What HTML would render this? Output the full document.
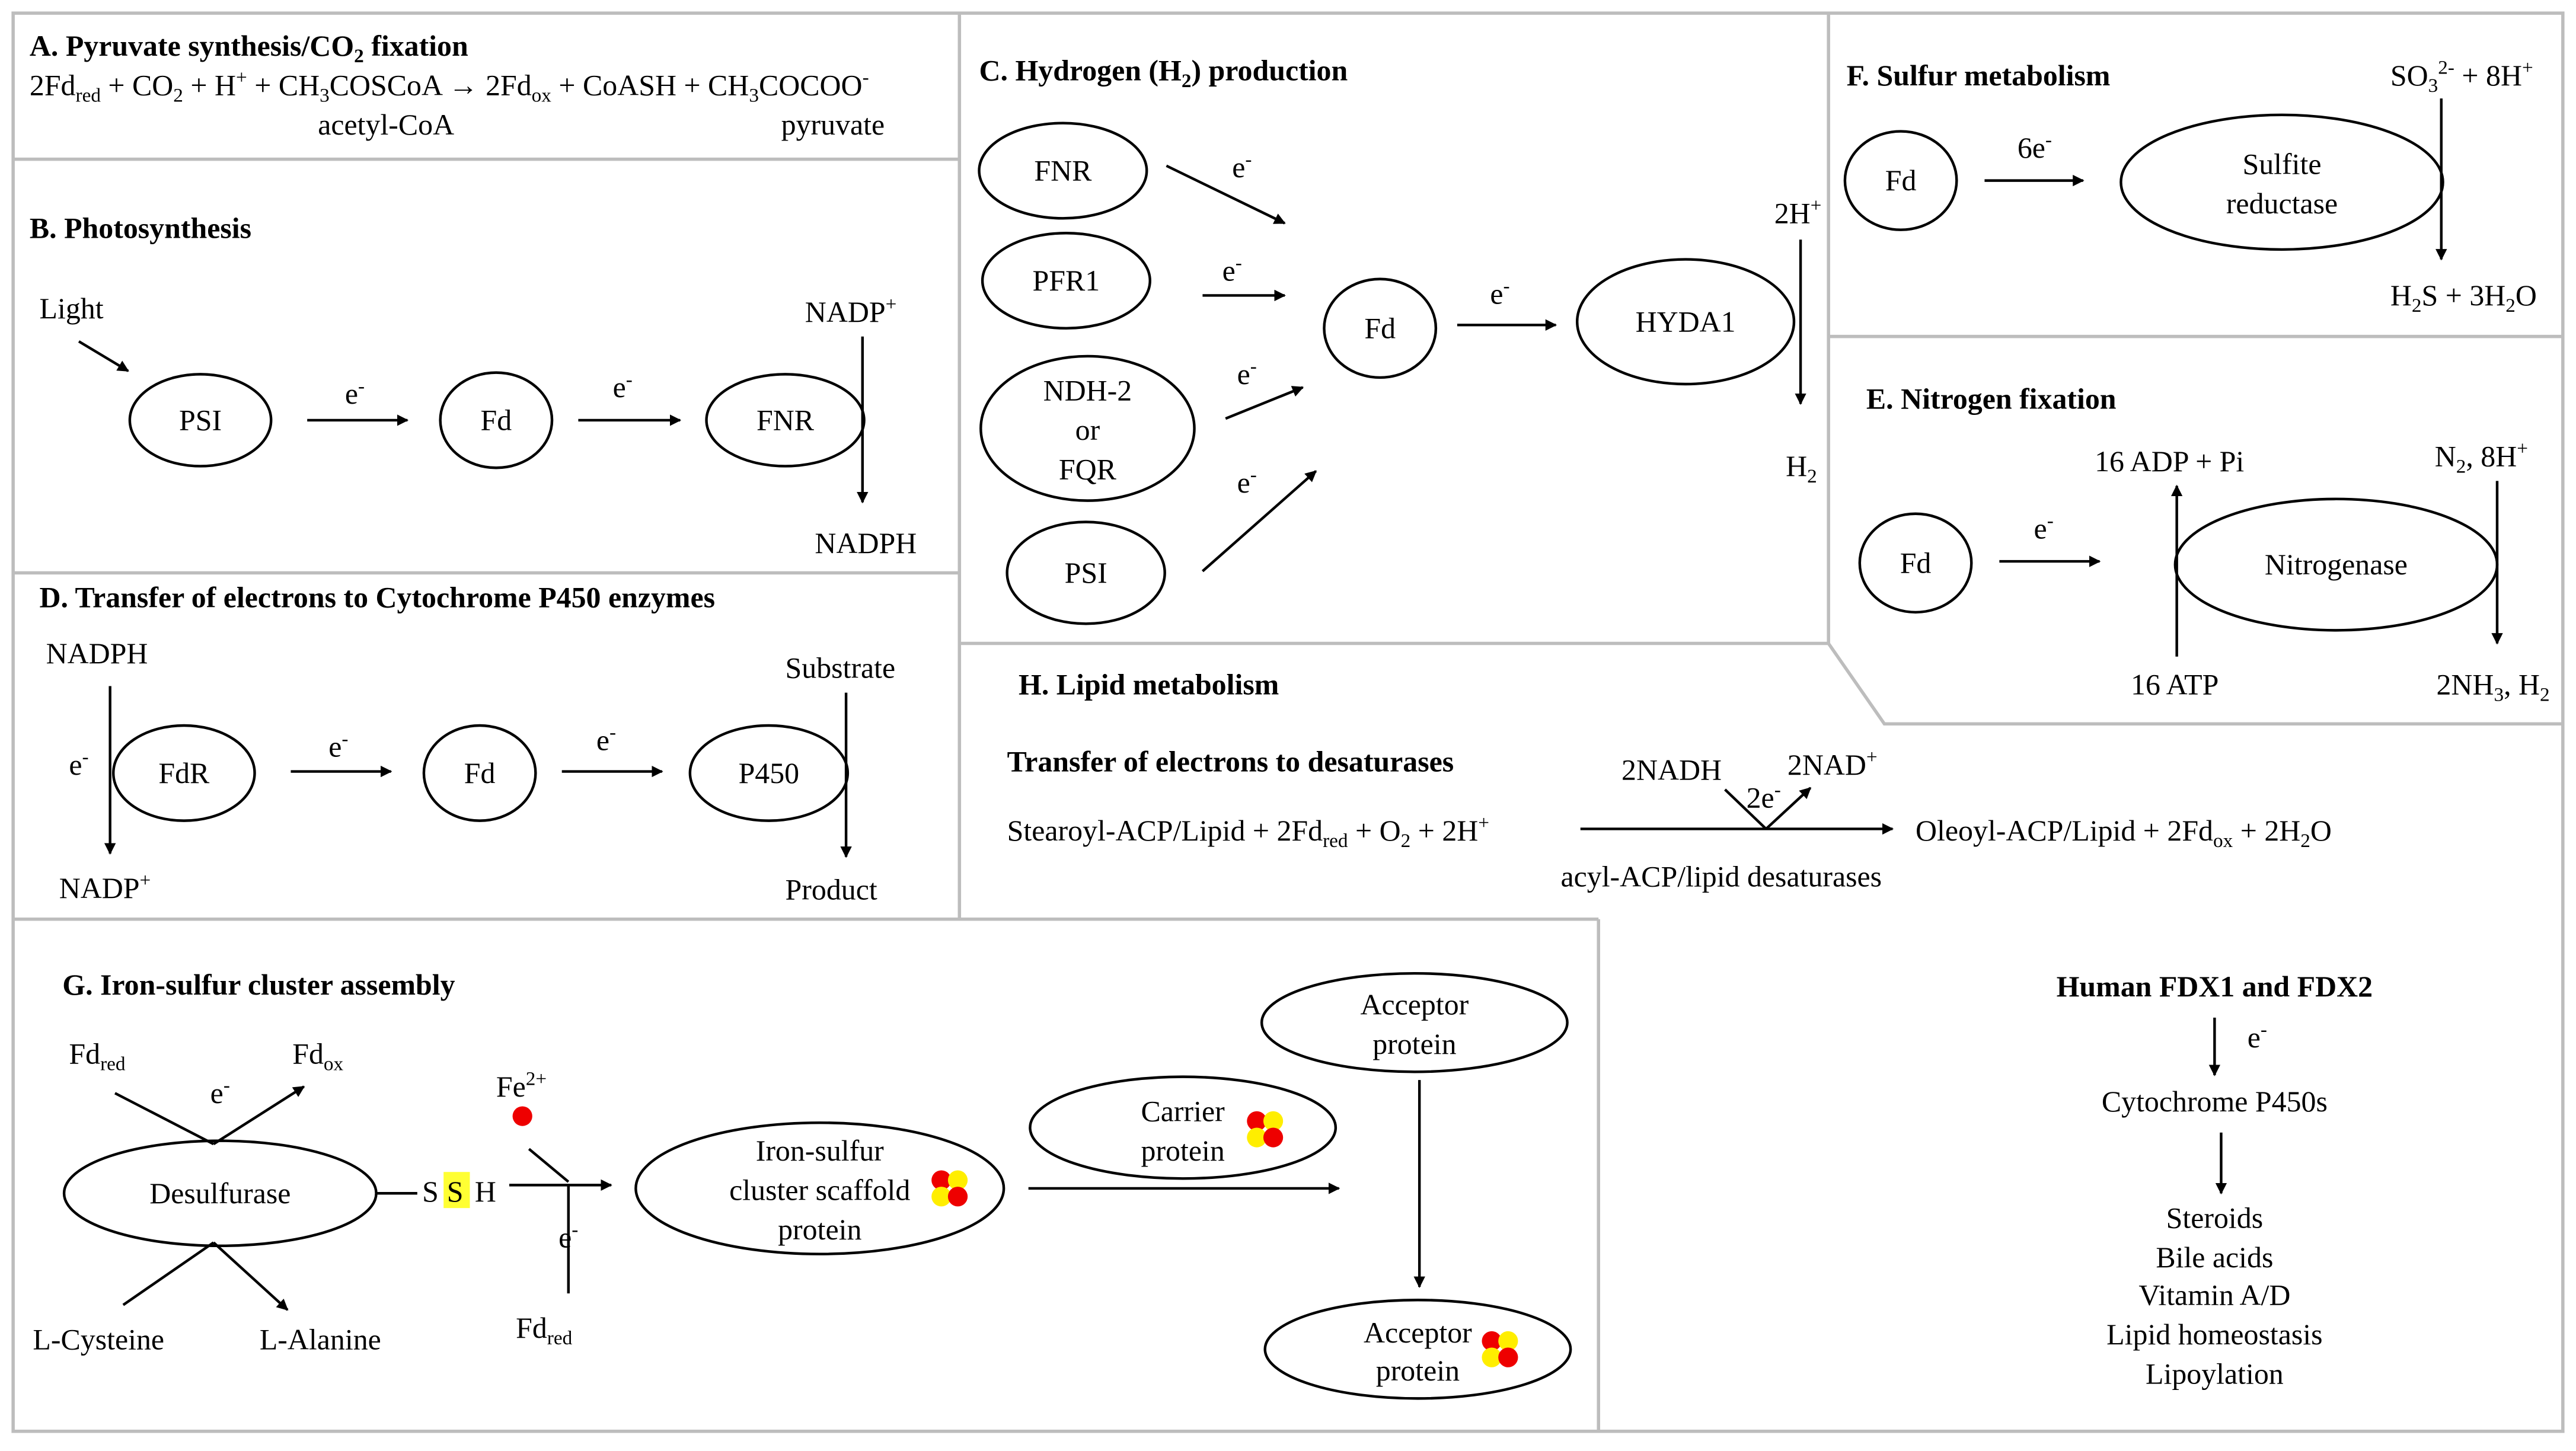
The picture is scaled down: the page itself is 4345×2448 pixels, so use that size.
<!DOCTYPE html>
<html><head><meta charset="utf-8"><style>
html,body{margin:0;padding:0;background:#fff;}
svg{display:block;}
text{font-family:"Liberation Serif","Times New Roman",serif;font-size:18px;fill:#000;}
.b{font-weight:bold;}
.s{font-size:12px;}
.m{text-anchor:middle;}
</style></head><body>
<svg width="4345" height="2448" viewBox="0 0 1568 884" preserveAspectRatio="none" xmlns="http://www.w3.org/2000/svg">
<defs><marker id="a" viewBox="0 0 10 10" refX="9" refY="5" markerWidth="7" markerHeight="7" orient="auto-start-reverse" markerUnits="userSpaceOnUse"><path d="M0,0L10,5L0,10z" fill="#000"/></marker>
<g id="cl">
<circle cx="-5" cy="-5" r="6" fill="#ee0000"/><circle cx="5" cy="-5" r="6" fill="#ffee00"/>
<circle cx="-5" cy="5" r="6" fill="#ffee00"/><circle cx="5" cy="5" r="6" fill="#ee0000"/>
</g></defs>
<g stroke="#bdbdbd" stroke-width="2" fill="none">
<rect x="8" y="8" width="1552" height="864"/>
<line x1="8" y1="97" x2="584" y2="97"/>
<line x1="8" y1="349" x2="584" y2="349"/>
<line x1="8" y1="560" x2="973" y2="560"/>
<line x1="584" y1="8" x2="584" y2="560"/>
<line x1="973" y1="560" x2="973" y2="872"/>
<line x1="584" y1="392" x2="1113" y2="392"/>
<line x1="1113" y1="8" x2="1113" y2="392"/>
<line x1="1113" y1="205" x2="1560" y2="205"/>
<polyline points="1113,392 1147,441 1560,441"/>
</g>
<g stroke="#000" stroke-width="1.6" fill="none">
<ellipse cx="122" cy="256" rx="43" ry="28"/>
<ellipse cx="302" cy="256" rx="34" ry="29"/>
<ellipse cx="478" cy="256" rx="48" ry="28"/>
<line x1="48" y1="208" x2="78" y2="226" marker-end="url(#a)"/>
<line x1="187" y1="256" x2="248" y2="256" marker-end="url(#a)"/>
<line x1="352" y1="256" x2="414" y2="256" marker-end="url(#a)"/>
<line x1="525" y1="205" x2="525" y2="306" marker-end="url(#a)"/>
<ellipse cx="112" cy="471" rx="43" ry="29"/>
<ellipse cx="292" cy="471" rx="34" ry="29"/>
<ellipse cx="468" cy="471" rx="48" ry="29"/>
<line x1="67" y1="418" x2="67" y2="520" marker-end="url(#a)"/>
<line x1="177" y1="470" x2="238" y2="470" marker-end="url(#a)"/>
<line x1="342" y1="470" x2="403" y2="470" marker-end="url(#a)"/>
<line x1="515" y1="422" x2="515" y2="522" marker-end="url(#a)"/>
<ellipse cx="647" cy="104" rx="51" ry="29"/>
<ellipse cx="649" cy="171" rx="51" ry="29"/>
<ellipse cx="662" cy="261" rx="65" ry="44"/>
<ellipse cx="661" cy="349" rx="48" ry="31"/>
<ellipse cx="840" cy="200" rx="34" ry="30"/>
<ellipse cx="1026" cy="196" rx="66" ry="38"/>
<line x1="710" y1="101" x2="782" y2="136" marker-end="url(#a)"/>
<line x1="732" y1="180" x2="782" y2="180" marker-end="url(#a)"/>
<line x1="746" y1="255" x2="793" y2="236" marker-end="url(#a)"/>
<line x1="732" y1="348" x2="801" y2="287" marker-end="url(#a)"/>
<line x1="887" y1="198" x2="947" y2="198" marker-end="url(#a)"/>
<line x1="1096" y1="146" x2="1096" y2="246" marker-end="url(#a)"/>
<ellipse cx="1157" cy="110" rx="34" ry="30"/>
<ellipse cx="1389" cy="111" rx="98" ry="41"/>
<line x1="1208" y1="110" x2="1268" y2="110" marker-end="url(#a)"/>
<line x1="1486" y1="60" x2="1486" y2="158" marker-end="url(#a)"/>
<ellipse cx="1166" cy="343" rx="34" ry="30"/>
<ellipse cx="1422" cy="344" rx="98" ry="40"/>
<line x1="1217" y1="342" x2="1278" y2="342" marker-end="url(#a)"/>
<line x1="1325" y1="400" x2="1325" y2="296" marker-end="url(#a)"/>
<line x1="1520" y1="293" x2="1520" y2="392" marker-end="url(#a)"/>
<line x1="962" y1="505" x2="1152" y2="505" marker-end="url(#a)"/>
<polyline points="1050,481 1075,505"/>
<line x1="1075" y1="505" x2="1102" y2="480" marker-end="url(#a)"/>
<line x1="1348" y1="620" x2="1348" y2="655" marker-end="url(#a)"/>
<line x1="1352" y1="690" x2="1352" y2="727" marker-end="url(#a)"/>
<ellipse cx="134" cy="727" rx="95" ry="32"/>
<line x1="70" y1="666" x2="130" y2="697"/>
<line x1="130" y1="697" x2="185" y2="662" marker-end="url(#a)"/>
<line x1="75" y1="795" x2="130" y2="757"/>
<line x1="130" y1="757" x2="175" y2="798" marker-end="url(#a)"/>
<line x1="229" y1="727" x2="254" y2="727"/>
<line x1="322" y1="700" x2="346" y2="720"/>
<line x1="310" y1="722" x2="372" y2="722" marker-end="url(#a)"/>
<line x1="346" y1="722" x2="346" y2="788"/>
<ellipse cx="499" cy="724" rx="112" ry="40"/>
<line x1="626" y1="724" x2="815" y2="724" marker-end="url(#a)"/>
<ellipse cx="720" cy="687" rx="93" ry="31"/>
<ellipse cx="861" cy="623" rx="93" ry="30"/>
<line x1="864" y1="658" x2="864" y2="784" marker-end="url(#a)"/>
<ellipse cx="863" cy="822" rx="93" ry="30"/>
</g>
<rect x="270" y="714" width="16" height="22" fill="#ffff33"/>
<circle cx="318" cy="680" r="6" fill="#ee0000"/>
<use href="#cl" x="578" y="724"/>
<use href="#cl" x="770" y="688"/>
<use href="#cl" x="913" y="822"/>
<text x="18" y="34" class="b">A. Pyruvate synthesis/CO<tspan class="s" dy="4">2</tspan><tspan dy="-4"> fixation</tspan></text>
<text x="18" y="58">2Fd<tspan class="s" dy="4">red</tspan><tspan dy="-4"> + CO</tspan><tspan class="s" dy="4">2</tspan><tspan dy="-4"> + H</tspan><tspan class="s" dy="-7">+</tspan><tspan dy="7"> + CH</tspan><tspan class="s" dy="4">3</tspan><tspan dy="-4">COSCoA → 2Fd</tspan><tspan class="s" dy="4">ox</tspan><tspan dy="-4"> + CoASH + CH</tspan><tspan class="s" dy="4">3</tspan><tspan dy="-4">COCOO</tspan><tspan class="s" dy="-7">-</tspan></text>
<text x="235" y="82" class="m">acetyl-CoA</text>
<text x="507" y="82" class="m">pyruvate</text>
<text x="18" y="145" class="b">B. Photosynthesis</text>
<text x="24" y="194">Light</text>
<text x="122" y="262" class="m">PSI</text>
<text x="302" y="262" class="m">Fd</text>
<text x="478" y="262" class="m">FNR</text>
<text x="210" y="246">e<tspan class="s" dy="-7">-</tspan></text>
<text x="373" y="242">e<tspan class="s" dy="-7">-</tspan></text>
<text x="490" y="196">NADP<tspan class="s" dy="-7">+</tspan></text>
<text x="496" y="337">NADPH</text>
<text x="24" y="370" class="b">D. Transfer of electrons to Cytochrome P450 enzymes</text>
<text x="28" y="404">NADPH</text>
<text x="42" y="472">e<tspan class="s" dy="-7">-</tspan></text>
<text x="112" y="477" class="m">FdR</text>
<text x="292" y="477" class="m">Fd</text>
<text x="468" y="477" class="m">P450</text>
<text x="200" y="461">e<tspan class="s" dy="-7">-</tspan></text>
<text x="363" y="457">e<tspan class="s" dy="-7">-</tspan></text>
<text x="36" y="547">NADP<tspan class="s" dy="-7">+</tspan></text>
<text x="478" y="413">Substrate</text>
<text x="478" y="548">Product</text>
<text x="596" y="49" class="b">C. Hydrogen (H<tspan class="s" dy="4">2</tspan><tspan dy="-4">) production</tspan></text>
<text x="647" y="110" class="m">FNR</text>
<text x="649" y="177" class="m">PFR1</text>
<text x="662" y="244" class="m">NDH-2</text>
<text x="662" y="268" class="m">or</text>
<text x="662" y="292" class="m">FQR</text>
<text x="661" y="355" class="m">PSI</text>
<text x="840" y="206" class="m">Fd</text>
<text x="1026" y="202" class="m">HYDA1</text>
<text x="750" y="108">e<tspan class="s" dy="-7">-</tspan></text>
<text x="744" y="171">e<tspan class="s" dy="-7">-</tspan></text>
<text x="753" y="234">e<tspan class="s" dy="-7">-</tspan></text>
<text x="753" y="300">e<tspan class="s" dy="-7">-</tspan></text>
<text x="907" y="185">e<tspan class="s" dy="-7">-</tspan></text>
<text x="1080" y="136">2H<tspan class="s" dy="-7">+</tspan></text>
<text x="1087" y="290">H<tspan class="s" dy="4">2</tspan></text>
<text x="1124" y="52" class="b">F. Sulfur metabolism</text>
<text x="1157" y="116" class="m">Fd</text>
<text x="1389" y="106" class="m">Sulfite</text>
<text x="1389" y="130" class="m">reductase</text>
<text x="1228" y="96">6e<tspan class="s" dy="-7">-</tspan></text>
<text x="1455" y="52">SO<tspan class="s" dy="4">3</tspan><tspan class="s" dy="-11">2-</tspan><tspan dy="7"> + 8H</tspan><tspan class="s" dy="-7">+</tspan></text>
<text x="1455" y="186">H<tspan class="s" dy="4">2</tspan><tspan dy="-4">S + 3H</tspan><tspan class="s" dy="4">2</tspan><tspan dy="-4">O</tspan></text>
<text x="1136" y="249" class="b">E. Nitrogen fixation</text>
<text x="1275" y="287">16 ADP + Pi</text>
<text x="1482" y="284">N<tspan class="s" dy="4">2</tspan><tspan dy="-4">, 8H</tspan><tspan class="s" dy="-7">+</tspan></text>
<text x="1166" y="349" class="m">Fd</text>
<text x="1422" y="350" class="m">Nitrogenase</text>
<text x="1238" y="328">e<tspan class="s" dy="-7">-</tspan></text>
<text x="1297" y="423">16 ATP</text>
<text x="1483" y="423">2NH<tspan class="s" dy="4">3</tspan><tspan dy="-4">, H</tspan><tspan class="s" dy="4">2</tspan></text>
<text x="620" y="423" class="b">H. Lipid metabolism</text>
<text x="613" y="470" class="b">Transfer of electrons to desaturases</text>
<text x="613" y="512">Stearoyl-ACP/Lipid + 2Fd<tspan class="s" dy="4">red</tspan><tspan dy="-4"> + O</tspan><tspan class="s" dy="4">2</tspan><tspan dy="-4"> + 2H</tspan><tspan class="s" dy="-7">+</tspan></text>
<text x="987" y="475">2NADH</text>
<text x="1088" y="472">2NAD<tspan class="s" dy="-7">+</tspan></text>
<text x="1063" y="492">2e<tspan class="s" dy="-7">-</tspan></text>
<text x="950" y="540">acyl-ACP/lipid desaturases</text>
<text x="1166" y="512">Oleoyl-ACP/Lipid + 2Fd<tspan class="s" dy="4">ox</tspan><tspan dy="-4"> + 2H</tspan><tspan class="s" dy="4">2</tspan><tspan dy="-4">O</tspan></text>
<text x="1348" y="607" class="m b">Human FDX1 and FDX2</text>
<text x="1368" y="638">e<tspan class="s" dy="-7">-</tspan></text>
<text x="1348" y="677" class="m">Cytochrome P450s</text>
<text x="1348" y="748" class="m">Steroids</text>
<text x="1348" y="772" class="m">Bile acids</text>
<text x="1348" y="795" class="m">Vitamin A/D</text>
<text x="1348" y="819" class="m">Lipid homeostasis</text>
<text x="1348" y="843" class="m">Lipoylation</text>
<text x="38" y="606" class="b">G. Iron-sulfur cluster assembly</text>
<text x="42" y="648">Fd<tspan class="s" dy="4">red</tspan></text>
<text x="128" y="672">e<tspan class="s" dy="-7">-</tspan></text>
<text x="178" y="648">Fd<tspan class="s" dy="4">ox</tspan></text>
<text x="134" y="733" class="m">Desulfurase</text>
<text x="20" y="822">L-Cysteine</text>
<text x="158" y="822">L-Alanine</text>
<text x="257" y="732">S</text>
<text x="272" y="732">S</text>
<text x="289" y="732">H</text>
<text x="302" y="668">Fe<tspan class="s" dy="-7">2+</tspan></text>
<text x="340" y="760">e<tspan class="s" dy="-7">-</tspan></text>
<text x="314" y="815">Fd<tspan class="s" dy="4">red</tspan></text>
<text x="499" y="707" class="m">Iron-sulfur</text>
<text x="499" y="731" class="m">cluster scaffold</text>
<text x="499" y="755" class="m">protein</text>
<text x="720" y="683" class="m">Carrier</text>
<text x="720" y="707" class="m">protein</text>
<text x="861" y="618" class="m">Acceptor</text>
<text x="861" y="642" class="m">protein</text>
<text x="863" y="818" class="m">Acceptor</text>
<text x="863" y="841" class="m">protein</text>
</svg>
</body></html>
